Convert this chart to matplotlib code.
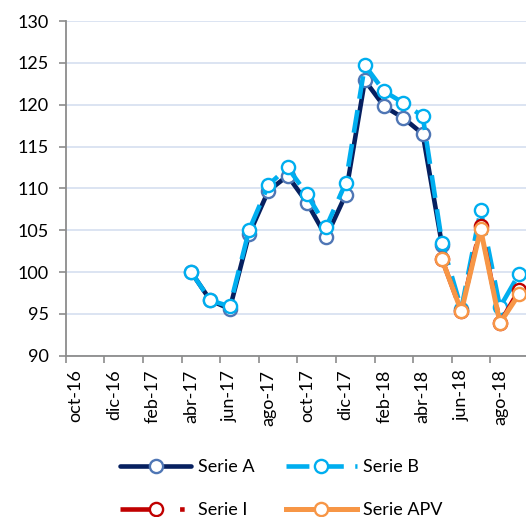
import numpy as np
import matplotlib
matplotlib.use("Agg")
import matplotlib.pyplot as plt

months = ['oct-16', 'nov-16', 'dic-16', 'ene-17', 'feb-17', 'mar-17', 'abr-17', 'may-17',
          'jun-17', 'jul-17', 'ago-17', 'sep-17', 'oct-17', 'nov-17', 'dic-17', 'ene-18',
          'feb-18', 'mar-18', 'abr-18', 'may-18', 'jun-18', 'jul-18', 'ago-18', 'sep-18']

nan = np.nan
serie_a = [nan] * 6 + [100.0, 96.6, 95.6, 104.5, 109.7, 111.5, 108.3, 104.2, 109.2, 122.9,
                       119.8, 118.4, 116.5, 103.2] + [nan] * 4
serie_b = [nan] * 6 + [100.0, 96.6, 95.9, 105.0, 110.4, 112.5, 109.3, 105.4, 110.6, 124.7,
                       121.6, 120.2, 118.6, 103.5, 95.6, 107.4, 95.8, 99.8]
serie_i = [nan] * 19 + [101.5, 95.3, 105.5, 93.9, 97.9]
serie_apv = [nan] * 19 + [101.5, 95.3, 105.1, 93.9, 97.4]

FONT = 'Lato'
FS = 13
plt.rcParams['font.family'] = [FONT, 'DejaVu Sans']

W, H = 526, 517
fig = plt.figure(figsize=(W / 100, H / 100), dpi=100)
ax_left, ax_right = 65.7, 65.7 + 24 * 19.3
ax_top, ax_bot = 21.0, 355.7
ax = fig.add_axes([ax_left / W, 1 - ax_bot / H, (ax_right - ax_left) / W, (ax_bot - ax_top) / H])

x = np.arange(len(months))
LW = 3.3
MS = 9.5
MEW = 1.7

ax.plot(x, serie_a, color='#062060', lw=LW, marker='o', ms=MS, mfc='white',
        mec='#4F76B5', mew=MEW, label='Serie A', solid_capstyle='round', zorder=3)
ax.plot(x, serie_b, color='#00AEEF', lw=LW, ls=(0, (5, 2.5)), marker='o', ms=MS, mfc='white',
        mec='#00AEEF', mew=MEW, label='Serie B', zorder=4)
ax.plot(x, serie_i, color='#C00000', lw=LW, ls=(0, (9, 4, 1, 4)), marker='o', ms=MS, mfc='white',
        mec='#C00000', mew=MEW, label='Serie I', zorder=5)
ax.plot(x, serie_apv, color='#F79646', lw=LW + 0.3, marker='o', ms=MS, mfc='white',
        mec='#F79646', mew=MEW, label='Serie APV', zorder=6)

ax.set_xlim(-0.5, 23.5)
ax.set_ylim(90, 130)
ax.set_yticks(np.arange(90, 131, 5))
ax.yaxis.grid(True, color='#D9E2F1', lw=1.3)
ax.set_axisbelow(True)

# tick marks between categories every two months, labels at category centers
ax.set_xticks(np.arange(-0.5, 24, 2))
ax.set_xticklabels([])
ax.set_xticks(np.arange(0, 24, 2), minor=True)
ax.set_xticklabels(months[::2], minor=True, rotation=90, fontsize=FS)
ax.tick_params(axis='x', which='minor', length=0, pad=10)
ax.tick_params(axis='x', which='major', length=5, width=1.2, color='#8C8C8C', direction='out')
ax.tick_params(axis='y', length=5, width=1.2, color='#8C8C8C', direction='out', labelsize=FS, pad=7)

for s in ['top', 'right']:
    ax.spines[s].set_visible(False)
for s in ['left', 'bottom']:
    ax.spines[s].set_color('#8C8C8C')
    ax.spines[s].set_linewidth(1.3)

handles, labels = ax.get_legend_handles_labels()
# order for ncol=2 (column-major): A, I, B, APV
order = [0, 2, 1, 3]
leg = fig.legend([handles[i] for i in order], [labels[i] for i in order], ncol=2,
                 loc='upper left', bbox_to_anchor=(120 / W, 1 - 459 / H), frameon=False,
                 fontsize=FS, handlelength=3.95, handletextpad=0.35, columnspacing=1.75,
                 labelspacing=1.5, borderpad=0, borderaxespad=0, numpoints=1)

fig.savefig('out.png', dpi=100)
